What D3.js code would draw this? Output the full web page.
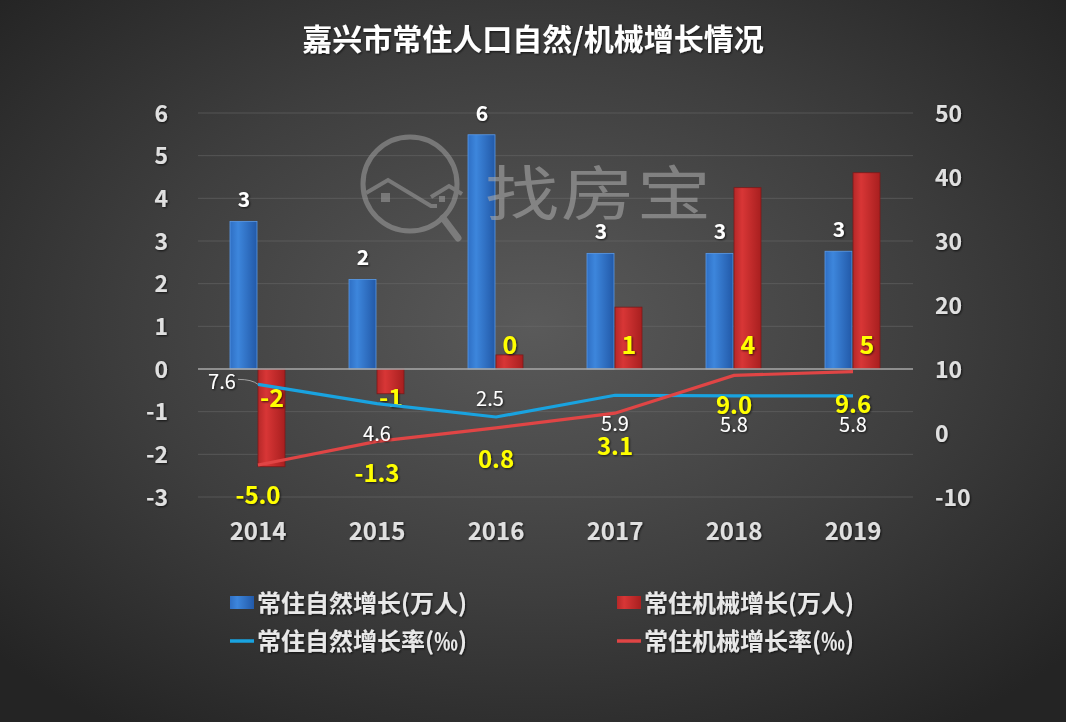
<!DOCTYPE html>
<html><head><meta charset="utf-8">
<script src="https://cdn.jsdelivr.net/npm/d3@7/dist/d3.min.js"></script>
<style>html,body{margin:0;padding:0;background:#2a2a2a;}svg{display:block;}</style>
</head><body><svg id="c" width="1066" height="722"></svg>
<script>
const years = ["2014","2015","2016","2017","2018","2019"];
const naturalGrowth = [3.46, 2.1, 5.49, 2.71, 2.71, 2.76];      // 万人
const naturalLabels = ["3","2","6","3","3","3"];
const mechGrowth = [-2.29, -0.58, 0.33, 1.45, 4.25, 4.6];       // 万人
const mechLabels = ["-2","-1","0","1","4","5"];
const naturalRate = [7.6, 4.6, 2.5, 5.9, 5.8, 5.8];             // ‰
const mechRate = [-5.0, -1.3, 0.8, 3.1, 9.0, 9.6];              // ‰
const leftTicks = [-3,-2,-1,0,1,2,3,4,5,6];
const rightTicks = [-10,0,10,20,30,40,50];
const title = "嘉兴市常住人口自然/机械增长情况";
const legendItems = ["常住自然增长(万人)","常住机械增长(万人)","常住自然增长率(‰)","常住机械增长率(‰)"];

const svg = d3.select("#c");
const W = 1066, H = 722;
const defs = svg.append("defs");
const bg = defs.append("radialGradient").attr("id","bg").attr("cx","50%").attr("cy","45%").attr("r","68%");
bg.append("stop").attr("offset","0%").attr("stop-color","#5a5a5a");
bg.append("stop").attr("offset","55%").attr("stop-color","#3e3e3e");
bg.append("stop").attr("offset","100%").attr("stop-color","#242424");
const gb = defs.append("linearGradient").attr("id","gb").attr("x1","0").attr("x2","1");
gb.append("stop").attr("offset","0%").attr("stop-color","#2f6fc4");
gb.append("stop").attr("offset","30%").attr("stop-color","#3d86dc");
gb.append("stop").attr("offset","100%").attr("stop-color","#2259a8");
const gr = defs.append("linearGradient").attr("id","gr").attr("x1","0").attr("x2","1");
gr.append("stop").attr("offset","0%").attr("stop-color","#b52828");
gr.append("stop").attr("offset","30%").attr("stop-color","#d83636");
gr.append("stop").attr("offset","100%").attr("stop-color","#a81f1f");
const sh = defs.append("filter").attr("id","ts").attr("x","-20%").attr("y","-20%").attr("width","140%").attr("height","140%");
sh.append("feDropShadow").attr("dx",1).attr("dy",1).attr("stdDeviation",0.8).attr("flood-color","#000").attr("flood-opacity",0.7);

svg.append("rect").attr("width",W).attr("height",H).attr("fill","url(#bg)");

const font = "'Noto Sans CJK SC','Noto Sans',sans-serif";
const x = d3.scaleBand().domain(years).range([198.5, 912.5]);
const yL = d3.scaleLinear().domain([-3,6]).range([497,113]);
const yR = d3.scaleLinear().domain([-10,50]).range([497,113]);
const bw = 28;

// title
svg.append("text").attr("x",533).attr("y",50).attr("text-anchor","middle")
  .attr("font-family",font).attr("font-weight","bold").attr("font-size",30)
  .attr("fill","#fff").attr("filter","url(#ts)").text(title);

// gridlines
svg.append("g").selectAll("line").data(leftTicks.filter(d=>d!==0)).join("line")
  .attr("x1",198).attr("x2",913).attr("y1",d=>yL(d)).attr("y2",d=>yL(d))
  .attr("stroke","#6a6a6a").attr("stroke-width",1).attr("opacity",0.55);

// left axis
const axL = d3.axisLeft(yL).tickValues(leftTicks).tickFormat(d=>String(d)).tickSize(0).tickPadding(0);
const gL = svg.append("g").attr("transform","translate(168,0)").call(axL);
gL.select(".domain").remove();
gL.selectAll("text").attr("font-family",font).attr("font-weight","bold").attr("font-size",23)
  .attr("fill","#e0e0e0").attr("text-anchor","end").attr("filter","url(#ts)").attr("dy","0.35em");
// right axis
const axR = d3.axisRight(yR).tickValues(rightTicks).tickFormat(d=>String(d)).tickSize(0).tickPadding(0);
const gR = svg.append("g").attr("transform","translate(935,0)").call(axR);
gR.select(".domain").remove();
gR.selectAll("text").attr("font-family",font).attr("font-weight","bold").attr("font-size",23)
  .attr("fill","#e0e0e0").attr("text-anchor","start").attr("filter","url(#ts)").attr("dy","0.35em");
// x labels
const axX = d3.axisBottom(x).tickSize(0).tickPadding(0);
const gX = svg.append("g").attr("transform","translate(0,532)").call(axX);
gX.select(".domain").remove();
gX.selectAll("text").attr("font-family",font).attr("font-weight","bold").attr("font-size",24)
  .attr("fill","#e0e0e0").attr("filter","url(#ts)").attr("dy","0.35em");

// watermark (behind labels)
const wm = svg.append("g").attr("opacity",0.55).attr("fill","none").attr("stroke","#a0a0a0");
wm.append("circle").attr("cx",410).attr("cy",184).attr("r",47).attr("stroke-width",5);
wm.append("line").attr("x1",443).attr("y1",218).attr("x2",458).attr("y2",238).attr("stroke-width",7).attr("stroke-linecap","round");
wm.append("polyline").attr("points","366,193 388,180 431,206 437,206").attr("stroke-width",4);
wm.append("polyline").attr("points","431,197 449,186 462,194").attr("stroke-width",4);
wm.append("rect").attr("x",381).attr("y",193).attr("width",9).attr("height",9).attr("fill","#a0a0a0").attr("stroke","none");
wm.append("rect").attr("x",439).attr("y",196).attr("width",6).attr("height",6).attr("fill","#a0a0a0").attr("stroke","none");

// bars
const cx = d => x(d) + x.bandwidth()/2;
svg.append("g").selectAll("rect").data(years).join("rect")
  .attr("x",d=>cx(d)-bw).attr("width",bw-1)
  .attr("y",(d,i)=>Math.min(yL(naturalGrowth[i]),yL(0)))
  .attr("height",(d,i)=>Math.abs(yL(naturalGrowth[i])-yL(0)))
  .attr("fill","url(#gb)").attr("stroke","#5b9be8").attr("stroke-width",0.8);
svg.append("g").selectAll("rect").data(years).join("rect")
  .attr("x",d=>cx(d)).attr("width",bw-1)
  .attr("y",(d,i)=>Math.min(yL(mechGrowth[i]),yL(0)))
  .attr("height",(d,i)=>Math.abs(yL(mechGrowth[i])-yL(0)))
  .attr("fill","url(#gr)").attr("stroke","#7a1a1a").attr("stroke-width",0.8);

// watermark text over bars
svg.append("text").attr("transform","translate(485,215) scale(1,0.8)").attr("font-family",font).attr("font-size",74).attr("font-weight","normal")
  .attr("fill","#a8a8a8").attr("opacity",0.6).attr("textLength",226).text("找房宝");

// zero line
svg.append("line").attr("x1",198).attr("x2",913).attr("y1",yL(0)).attr("y2",yL(0))
  .attr("stroke","#a8a8a8").attr("stroke-width",1.3);

// bar labels
svg.append("g").selectAll("text").data(years).join("text")
  .attr("x",d=>cx(d)-bw/2).attr("y",(d,i)=>yL(naturalGrowth[i])-14)
  .attr("text-anchor","middle").attr("font-family",font).attr("font-weight","bold").attr("font-size",21)
  .attr("fill","#fff").attr("filter","url(#ts)").text((d,i)=>naturalLabels[i]);
svg.append("g").selectAll("text").data(years).join("text")
  .attr("x",d=>cx(d)+bw/2).attr("y",(d,i)=>mechGrowth[i]>=0 ? yL(0)-15 : yL(0)+38)
  .attr("text-anchor","middle").attr("font-family",font).attr("font-weight","bold").attr("font-size",25)
  .attr("fill","#ffff00").attr("filter","url(#ts)").text((d,i)=>mechLabels[i]);

// lines
const lineN = d3.line().x((d,i)=>cx(years[i])).y(d=>yR(d));
svg.append("path").datum(naturalRate).attr("d",lineN).attr("fill","none")
  .attr("stroke","#19a3e0").attr("stroke-width",3.2);
svg.append("path").datum(mechRate).attr("d",lineN).attr("fill","none")
  .attr("stroke","#e04545").attr("stroke-width",3.2);

// line labels
const nOff = [[-36,-2],[0,30],[-6,-18],[0,29],[0,29],[0,29]];
const mOff = [[0,31],[0,32],[0,32],[0,33],[0,30],[0,33]];
svg.append("path")
  .attr("d",`M${cx(years[0])+nOff[0][0]+16},${yR(naturalRate[0])-5} Q${cx(years[0])-6},${yR(naturalRate[0])-5} ${cx(years[0])},${yR(naturalRate[0])}`)
  .attr("fill","none").attr("stroke","#bbb").attr("stroke-width",0.8);
svg.append("g").selectAll("text").data(naturalRate).join("text")
  .attr("x",(d,i)=>cx(years[i])+nOff[i][0]).attr("y",(d,i)=>yR(d)+nOff[i][1])
  .attr("dy","0.35em").attr("text-anchor","middle").attr("font-family",font).attr("font-size",20)
  .attr("fill","#fff").attr("filter","url(#ts)").text(d=>d.toFixed(1));
svg.append("g").selectAll("text").data(mechRate).join("text")
  .attr("x",(d,i)=>cx(years[i])+mOff[i][0]).attr("y",(d,i)=>yR(d)+mOff[i][1])
  .attr("dy","0.35em").attr("text-anchor","middle").attr("font-family",font).attr("font-weight","bold").attr("font-size",24)
  .attr("fill","#ffff00").attr("filter","url(#ts)").text(d=>d.toFixed(1));

// legend
const lg = svg.append("g").attr("font-family",font).attr("font-weight","bold").attr("font-size",24).attr("fill","#e8e8e8");
const lpos = [[230,603],[617,603],[230,641],[617,641]];
const lfill = ["url(#gb)","url(#gr)","#19a3e0","#e04545"];
legendItems.forEach((t,i)=>{
  const [lx,ly] = lpos[i];
  if(i<2) lg.append("rect").attr("x",lx).attr("y",ly-7).attr("width",24).attr("height",13).attr("fill",lfill[i]);
  else lg.append("line").attr("x1",lx).attr("x2",lx+24).attr("y1",ly).attr("y2",ly).attr("stroke",lfill[i]).attr("stroke-width",3.5);
  lg.append("text").attr("x",lx+27).attr("y",ly).attr("dy","0.36em").attr("filter","url(#ts)").text(t);
});
</script></body></html>
